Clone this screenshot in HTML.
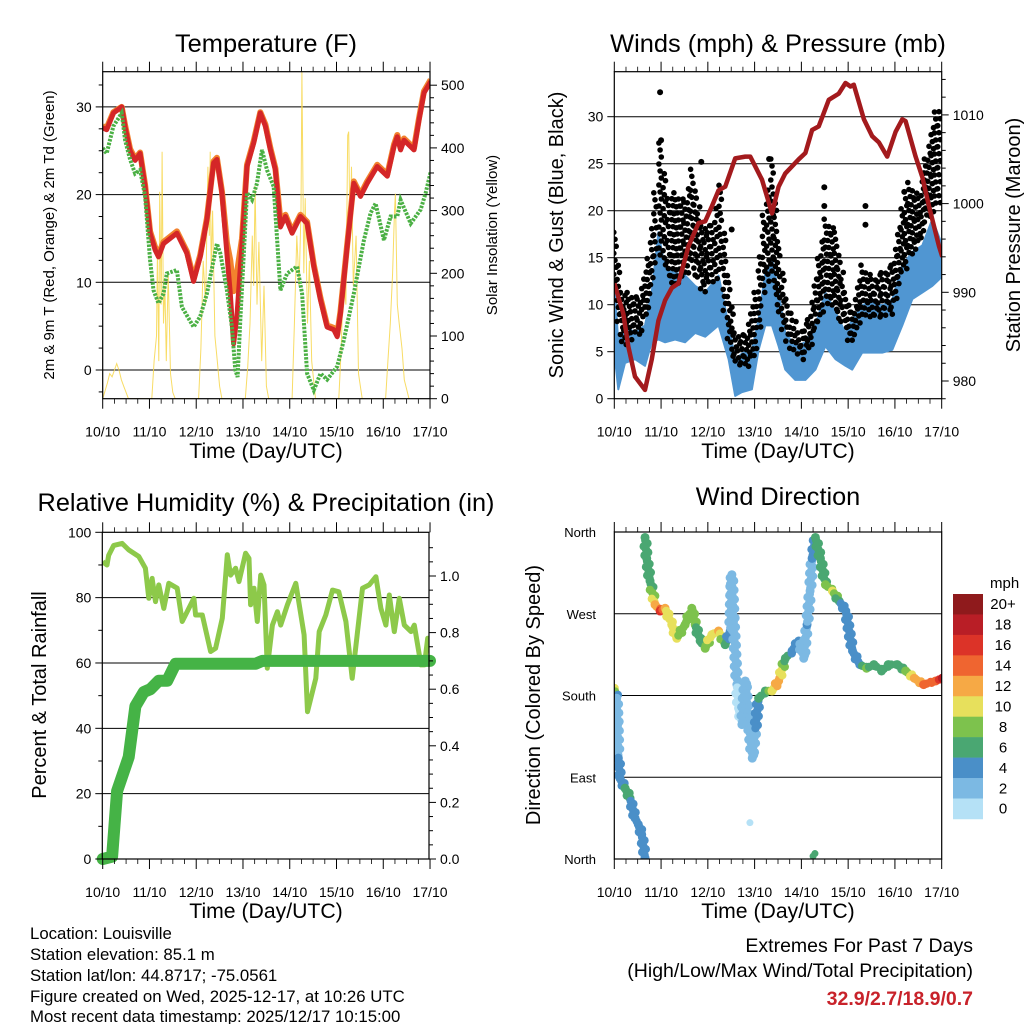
<!DOCTYPE html>
<html><head><meta charset="utf-8"><style>
body{margin:0;background:#fff}
svg text{font-family:"Liberation Sans",Arial,sans-serif;fill:#000}
</style></head><body>
<svg id="s" width="1024" height="1024" viewBox="0 0 1024 1024" xmlns="http://www.w3.org/2000/svg">
<defs>
<clipPath id="c1"><rect x="102.7" y="71.7" width="327.3" height="327"/></clipPath>
<clipPath id="c2"><rect x="614.3" y="71.7" width="327.4" height="327"/></clipPath>
<clipPath id="c3"><rect x="102.3" y="532.3" width="326.7" height="326.7"/></clipPath>
<clipPath id="c4"><rect x="614.3" y="532" width="327.4" height="327"/></clipPath>
</defs>
<g id="g1"></g>
<g id="g2"></g>
<g id="g3"></g>
<g id="g4"></g>
<text x="266" y="52" font-size="25.4" text-anchor="middle">Temperature (F)</text>
<text x="778" y="52" font-size="25.4" text-anchor="middle">Winds (mph) &amp; Pressure (mb)</text>
<text x="266" y="511" font-size="25.3" text-anchor="middle">Relative Humidity (%) &amp; Precipitation (in)</text>
<text x="778" y="505" font-size="25.3" text-anchor="middle">Wind Direction</text>
<text x="266" y="458" font-size="21.2" text-anchor="middle">Time (Day/UTC)</text>
<text x="778" y="458" font-size="21.2" text-anchor="middle">Time (Day/UTC)</text>
<text x="266" y="918" font-size="21.2" text-anchor="middle">Time (Day/UTC)</text>
<text x="778" y="918" font-size="21.2" text-anchor="middle">Time (Day/UTC)</text>
<text transform="translate(54,235) rotate(-90)" font-size="15" text-anchor="middle">2m &amp; 9m T (Red, Orange) &amp; 2m Td (Green)</text>
<text transform="translate(497,235) rotate(-90)" font-size="15" text-anchor="middle">Solar Insolation (Yellow)</text>
<text transform="translate(563,235) rotate(-90)" font-size="20" text-anchor="middle">Sonic Wind &amp; Gust (Blue, Black)</text>
<text transform="translate(1020,235) rotate(-90)" font-size="20" text-anchor="middle">Station Pressure (Maroon)</text>
<text transform="translate(46,695) rotate(-90)" font-size="20" text-anchor="middle">Percent &amp; Total Rainfall</text>
<text transform="translate(540,695) rotate(-90)" font-size="20" text-anchor="middle">Direction (Colored By Speed)</text>
<g font-size="16.8">
<text x="30" y="939">Location: Louisville</text>
<text x="30" y="960">Station elevation: 85.1 m</text>
<text x="30" y="981">Station lat/lon: 44.8717; -75.0561</text>
<text x="30" y="1002">Figure created on Wed, 2025-12-17, at 10:26 UTC</text>
<text x="30" y="1022">Most recent data timestamp: 2025/12/17 10:15:00</text>
</g>
<g font-size="19.5" text-anchor="end">
<text x="973" y="952">Extremes For Past 7 Days</text>
<text x="973" y="977">(High/Low/Max Wind/Total Precipitation)</text>
<text x="973" y="1005" font-weight="bold" style="fill:#c8222a">32.9/2.7/18.9/0.7</text>
</g>
</svg>
<script>
// ---- shared
const dayLabels=['10/10','11/10','12/10','13/10','14/10','15/10','16/10','17/10'];
// ---- temperature panel
const tTimes=[0,0.086,0.229,0.407,0.479,0.586,0.693,0.8,0.907,1.014,1.121,1.193,1.3,1.586,1.8,1.943,2.086,2.229,2.371,2.443,2.55,2.657,2.729,2.8,2.871,2.979,3.086,3.229,3.371,3.479,3.586,3.693,3.8,3.907,4.05,4.229,4.371,4.514,4.657,4.8,4.943,5.014,5.086,5.229,5.371,5.514,5.657,5.871,6.086,6.229,6.3,6.371,6.443,6.657,6.764,6.871,7.014];
const tempT2=[27.6,27.4,29.3,30,27.7,25,23.9,24.7,20.9,15.6,13.7,12.9,14.4,15.6,13.3,10.1,12.9,17.1,23.6,24,20.2,13.3,8.7,3,6.1,14.4,23.2,25.9,29.3,27.8,25.1,22.8,16.3,17.5,15.6,17.5,16.7,11.8,8,4.9,4.6,3.8,6.5,14.1,21.3,19.8,21.3,23.2,22.1,25.5,26.6,25.1,26.2,25.1,28.5,31.6,32.9];
const tempT9=[27.8,27.6,29.4,30,27.9,25.2,24.1,24.8,21.1,15.8,14,13.2,14.6,15.8,13.5,10.4,13.1,17.3,23.8,24.2,20.4,14.5,12.5,9,11,15,23.4,26.1,29.4,28,25.3,23,17,17.7,15.8,17.7,16.9,12,8.2,5.1,4.8,4,6.7,14.3,21.5,20,21.5,23.4,22.3,25.7,26.8,25.3,26.4,25.3,28.7,31.8,33.1];
const tdTimes=[0,0.086,0.229,0.407,0.479,0.586,0.693,0.8,0.907,1.014,1.086,1.193,1.3,1.371,1.586,1.693,1.943,2.086,2.229,2.443,2.514,2.657,2.764,2.836,2.886,2.943,3.086,3.193,3.3,3.407,3.514,3.657,3.8,3.943,4.157,4.264,4.371,4.514,4.657,4.8,5.014,5.157,5.371,5.586,5.729,5.836,6.014,6.157,6.3,6.371,6.586,6.8,6.907,7.014];
const tempTd=[25.3,24.7,27.8,29.3,26.2,24,22.4,22.8,19.8,12.5,9.1,7.6,8.7,11,11.4,7.2,4.9,6.1,8.7,14.4,13.3,9.1,4.9,0,-0.8,5.7,20.2,19.4,21.3,25.1,22.8,20.9,9.1,11,11.8,8.7,-0.4,-2.3,-0.4,-1.1,0.4,3.4,8.7,14.8,17.9,19,14.8,17.5,17.5,19.4,16.7,18.3,20.2,22.6];
const solTimes=[0,0.1,0.15,0.2,0.3,0.35,0.4,0.45,0.5,0.55,0.6,1.05,1.1,1.15,1.17,1.2,1.22,1.25,1.27,1.3,1.33,1.36,1.4,1.45,1.5,1.55,2.05,2.1,2.15,2.2,2.25,2.28,2.3,2.32,2.35,2.4,2.45,2.5,2.55,3.05,3.1,3.15,3.2,3.23,3.26,3.3,3.34,3.4,3.45,3.5,3.55,4.05,4.1,4.15,4.2,4.24,4.26,4.3,4.33,4.38,4.42,4.47,4.55,5.05,5.1,5.15,5.2,5.24,5.26,5.29,5.32,5.36,5.42,5.47,5.55,6.05,6.1,6.15,6.2,6.24,6.26,6.3,6.34,6.4,6.45,6.55];
const solVals=[0,25,40,35,56,45,30,20,10,0,0,0,60,100,230,60,330,150,394,120,180,60,200,40,10,0,0,80,220,150,370,260,394,200,300,100,60,20,0,0,50,120,260,180,339,150,250,60,180,20,0,0,120,260,180,300,522,200,320,120,220,60,0,0,80,200,150,420,426,250,370,180,260,40,0,0,60,120,200,300,327,150,120,80,30,0];
// ---- winds panel
const prTimes=[0,0.193,0.3,0.443,0.657,0.8,0.943,1.086,1.229,1.371,1.586,1.8,1.943,2.086,2.229,2.371,2.586,2.8,2.907,3.157,3.371,3.514,3.657,3.943,4.086,4.229,4.371,4.586,4.8,4.943,5.05,5.121,5.336,5.514,5.657,5.836,6.014,6.157,6.229,6.443,6.586,6.729,6.943,7.014];
const pressure=[991,987.6,983.9,980.5,979,982.4,986.8,989.1,990.5,991,995.2,997.8,998,999.7,1001.5,1001.9,1005.1,1005.3,1005.3,1002.7,998.9,1001.9,1003.4,1005,1005.7,1008.3,1008.7,1011.7,1012.4,1013.6,1013.2,1013.4,1009.5,1007.6,1006.9,1005.3,1008.1,1009.5,1009.3,1005.3,1003,999.7,995.2,994];
const wsTimes=[0.014,0.086,0.229,0.443,0.657,0.8,0.943,1.086,1.3,1.514,1.729,1.943,2.229,2.443,2.586,2.729,2.943,3.086,3.229,3.371,3.514,3.657,3.871,4.086,4.3,4.514,4.729,4.943,5.086,5.3,5.514,5.729,5.943,6.157,6.371,6.586,6.8,7.014];
const sustHi=[11.3,6,7.8,7,7.8,11.3,17.7,13.8,13.4,13.1,12,11.3,13.1,7.8,4.2,4.8,5.2,8.4,13.4,14.9,11.3,7,5.6,6,7.8,11.3,9.2,7,8.4,9.9,10.6,9.9,10.6,14.2,15.6,16.3,19.1,16.3];
const sustLo=[4.2,1,3.8,4.2,3.5,6,6.3,6,6.3,6,7,6.6,7.8,4.2,0.3,0.7,1,5.2,7.8,7.8,5.6,3.1,2,2,3.1,5.6,4.2,3.5,3.1,4.9,4.9,4.9,5.2,7.8,10.6,11.3,12,13];
const gTimes=[0.014,0.157,0.3,0.514,0.729,0.871,0.979,1.157,1.3,1.514,1.657,1.871,2.086,2.264,2.443,2.586,2.8,3.014,3.193,3.371,3.514,3.693,3.943,4.157,4.371,4.514,4.729,4.943,5.086,5.3,5.514,5.729,5.943,6.157,6.3,6.514,6.657,6.871,7.014];
const gustHi=[17.7,11.3,11.3,10.6,14.9,21.9,27.2,21.3,21.9,20.9,24.4,18.4,18.4,22.7,13.1,7,6.7,11.3,19.5,25.5,16.7,10.6,7,8.4,14.9,19.1,17.7,11.3,9.2,14.2,12.7,13.4,14.2,20.2,23,21.3,25.5,30.5,31.2];
const gustLo=[11.3,5.6,6.3,6.6,9.2,14.2,14.9,13.1,12,13.1,14.2,11.3,12,13.1,6,3.5,3.5,4.2,11.3,13.1,9.2,5.6,4.2,4.9,7.8,10.6,9.2,7,5.6,8.5,8.5,8.5,8.9,13.4,14.9,16.3,18.4,20.2,22];
const gustOutT=[0.979,1.0,1.86,2.51,3.31,4.49,4.49,5.37,5.37,6.2,6.62,6.65];
const gustOutV=[32.6,27.5,25.2,18,25.5,22.5,20.5,20.5,18.5,22,24,22];
// ---- humidity panel
const rhTimes=[0,0.093,0.129,0.236,0.414,0.557,0.771,0.914,0.986,1.057,1.129,1.2,1.307,1.414,1.593,1.7,1.771,1.95,1.986,2.129,2.307,2.414,2.557,2.664,2.736,2.843,2.914,3.057,3.129,3.164,3.236,3.307,3.379,3.45,3.521,3.629,3.736,3.807,3.95,4.129,4.307,4.379,4.557,4.629,4.771,4.914,5.05,5.2,5.336,5.557,5.7,5.843,5.95,6.057,6.129,6.236,6.343,6.45,6.593,6.664,6.807,6.879,6.95,7.0];
const rhVals=[91,90,93,96,96.6,94.6,92.6,89,79.8,85.9,78.8,83.9,76.7,84.4,82.9,72.7,74.7,79.8,74.7,74.7,63.5,64.5,73.7,93.1,86.9,89,84.9,93.6,92,77.8,82.9,72.7,86.9,83.9,58.4,71.6,75.7,71.6,77.8,84.4,68.6,45.1,55.3,69.6,74.7,82.3,81.8,72.7,55.3,82.9,83.9,86.4,76.7,71.6,80.8,69.6,79.8,71.6,69.6,71.6,59.4,59.4,67.6,66.5];
const prTimes2=[0,0.2,0.307,0.557,0.7,0.879,1.021,1.2,1.379,1.557,3.271,3.414,7.0];
const precip=[0,0.008,0.24,0.36,0.54,0.59,0.6,0.63,0.63,0.69,0.69,0.7,0.7];
// ---- wind direction panel
const dTimes=[0,0.05,0.071,0.086,0.121,0.229,0.336,0.443,0.514,0.586,0.657,0.657,0.693,0.764,0.871,0.979,1.086,1.229,1.336,1.514,1.657,1.729,1.836,1.943,2.086,2.229,2.371,2.479,2.514,2.55,2.621,2.657,2.729,2.8,2.871,2.95,3.086,3.229,3.371,3.514,3.657,3.8,3.943,4.05,4.121,4.186,4.229,4.3,4.407,4.514,4.664,4.807,4.95,5.093,5.25,5.393,5.55,5.714,5.857,6.05,6.229,6.414,6.614,6.871,7.014];
const dirVals=[188,177,148,111,89,78,67,45,38,27,1,354,331,306,280,273,276,258,243,258,276,258,240,232,247,251,236,251,313,262,192,166,148,196,152,111,177,185,185,196,221,229,240,221,258,295,331,354,331,302,295,284,273,229,214,210,214,207,214,214,207,199,192,196,199,201];
const dirSpeed=[11,3,3,4,5,6,6,5,5,5,4,6,7,6,12,16,12,11,10,9,8,8,7,9,11,12,7,4,3,2,2,1,2,3,2,2,6,7,11,13,7,5,4,3,4,2,4,6,7,8,10,6,4,4,5,8,6,6,7,6,8,12,14,15,18,17];
const dirExtraT=[2.9,4.25,4.29];
const dirExtraV=[40,3,6];
const dirExtraS=[1,6,6];
const speedLabels=['20+','18','16','14','12','10','8','6','4','2','0'];
const speedColors=['#8f1a1c','#b91e26','#dc3328','#ef6530','#f6a945','#e7e05c','#7dc24d','#4aa772','#4a8fc8','#7cb9e3','#b5e1f6'];

const NS='http://www.w3.org/2000/svg';
function el(tag,attrs,parent){const e=document.createElementNS(NS,tag);for(const k in attrs)e.setAttribute(k,attrs[k]);parent.appendChild(e);return e;}
function pts(ts,vs,fx,fy){return ts.map((t,i)=>fx(t).toFixed(1)+','+fy(vs[i]).toFixed(1)).join(' ');}
function lerp(a,b,f){return a+(b-a)*f;}

const xP=t=>102.7+t*46.76, xQ=t=>614.3+t*46.77;
const yT=v=>370-v*8.77, yS=v=>398.7-v*0.627;
const yW=v=>398.7-v*9.4, yPr=p=>381-(p-980)*8.87;
const yRH=v=>859-v*3.267, yPc=v=>859-v*283;
const yD=d=>859-d*(327/360);

function frame(g,x0,y0,x1,y1,xf,prefix){
  for(let i=0;i<dayLabels.length;i++){
    const x=xf(i);
    el('line',{x1:x,y1:y0,x2:x,y2:y0-10,stroke:'#000','stroke-width':1},g);
    el('line',{x1:x,y1:y1,x2:x,y2:y1+10,stroke:'#000','stroke-width':1},g);
    const t=el('text',{x:x,y:y1+38,'font-size':14,'text-anchor':'middle'},g);
    t.textContent=dayLabels[i];
    
    
    if(i<7){for(let k=1;k<4;k++){const xm=xf(i+k/4);
      el('line',{x1:xm,y1:y0,x2:xm,y2:y0-5,stroke:'#000','stroke-width':0.8},g);
      el('line',{x1:xm,y1:y1,x2:xm,y2:y1+5,stroke:'#000','stroke-width':0.8},g);}}
  }
  el('rect',{x:x0,y:y0,width:x1-x0,height:y1-y0,fill:'none',stroke:'#000','stroke-width':1.2},g);
}
function yAxis(g,x,side,vals,yf,labels,fs,major,prefix){
  vals.forEach((v,i)=>{
    const y=yf(v);
    const len=major?7:4;
    el('line',{x1:x,y1:y,x2:x+side*len,y2:y,stroke:'#000','stroke-width':1},g);
    if(labels&&labels[i]!==''){
      const t=el('text',{x:x+side*(len+4),y:y+5,'font-size':fs,'text-anchor':side<0?'end':'start'},g);
      t.textContent=labels[i];
      
      
    }
  });
}
function grid(g,x0,x1,vals,yf){vals.forEach(v=>{const y=yf(v);el('line',{x1:x0,y1:y,x2:x1,y2:y,stroke:'#000','stroke-width':1},g);});}

// ===== Panel 1
(function(){
const g=document.getElementById('g1');
grid(g,102.7,430,[0,10,20,30],yT);
const c=el('g',{'clip-path':'url(#c1)'},g);
const sol=el('polyline',{points:pts(solTimes,solVals,xP,yS),fill:'none',stroke:'#f7d64a','stroke-width':1,opacity:0.85},c);


const o=el('polyline',{points:pts(tTimes,tempT9,xP,yT),fill:'none',stroke:'#f2822e','stroke-width':6,'stroke-linejoin':'round'},c);


const r=el('polyline',{points:pts(tTimes,tempT2,xP,yT),fill:'none',stroke:'#d42628','stroke-width':5,'stroke-linejoin':'round'},c);


const gd=el('polyline',{points:pts(tdTimes,tempTd,xP,yT),fill:'none',stroke:'#4bb044','stroke-width':4,'stroke-dasharray':'2.5 1.3'},c);


frame(g,102.7,71.7,430,398.7,xP,'temp');
yAxis(g,102.7,-1,[0,10,20,30],yT,['0','10','20','30'],14,true,'temp-y');
yAxis(g,102.7,-1,[-2.5,2.5,5,7.5,12.5,15,17.5,22.5,25,27.5,32.5],yT,null,14,false,'temp-y');
yAxis(g,430,1,[0,100,200,300,400,500],yS,['0','100','200','300','400','500'],14,true,'solar-y');
yAxis(g,430,1,[20,40,60,80,120,140,160,180,220,240,260,280,320,340,360,380,420,440,460,480],yS,null,14,false,'solar-y');
})();

// ===== Panel 2
(function(){
const g=document.getElementById('g2');
grid(g,614.3,941.7,[5,10,15,20,25,30],yW);
const c=el('g',{'clip-path':'url(#c2)'},g);
let top=wsTimes.map((t,i)=>xQ(t).toFixed(1)+','+yW(sustHi[i]).toFixed(1));
let bot=wsTimes.map((t,i)=>xQ(t).toFixed(1)+','+yW(sustLo[i]).toFixed(1)).reverse();
const band=el('polygon',{points:top.concat(bot).join(' '),fill:'#5096d2',stroke:'#5096d2','stroke-width':2,'stroke-linejoin':'round'},c);


const gg=el('g',{fill:'#000'},c);


for(let i=0;i<gTimes.length-1;i++){
  const xa=xQ(gTimes[i]),xb=xQ(gTimes[i+1]);
  const n=Math.max(1,Math.round((xb-xa)/3.4));
  for(let k=0;k<n;k++){
    const f=k/n;const x=lerp(xa,xb,f);
    const hi=yW(lerp(gustHi[i],gustHi[i+1],f)),lo=yW(lerp(gustLo[i],gustLo[i+1],f));
    let j=0;
    for(let y=hi;y<=lo;y+=7){el('circle',{cx:(x+((j+k)%3-1)*1.2).toFixed(1),cy:(y+((k%2)*3)).toFixed(1),r:2.8},gg);j++;}
  }
}
gustOutT.forEach((t,i)=>{el('circle',{cx:xQ(t),cy:yW(gustOutV[i]),r:3},gg);});
const pr=el('polyline',{points:pts(prTimes,pressure,xQ,yPr),fill:'none',stroke:'#a31a1d','stroke-width':4.5,'stroke-linejoin':'round'},c);


frame(g,614.3,71.7,941.7,398.7,xQ,'winds');
yAxis(g,614.3,-1,[0,5,10,15,20,25,30],yW,['0','5','10','15','20','25','30'],14,true,'wind-y');
yAxis(g,941.7,1,[980,990,1000,1010],yPr,['980','990','1000','1010'],14,true,'pressure-y');
yAxis(g,941.7,1,[978,982,984,986,988,992,994,996,998,1002,1004,1006,1008,1012,1014],yPr,null,14,false,'pressure-y');
})();

// ===== Panel 3
(function(){
const g=document.getElementById('g3');
grid(g,102.3,429,[20,40,60,80],yRH);
const c=el('g',{'clip-path':'url(#c3)'},g);
const rh=el('polyline',{points:pts(rhTimes,rhVals,xP,yRH),fill:'none',stroke:'#8dc94a','stroke-width':5,'stroke-linejoin':'round'},c);


const p=el('polyline',{points:pts(prTimes2,precip,xP,yPc),fill:'none',stroke:'#45b346','stroke-width':12,'stroke-linejoin':'round','stroke-linecap':'round'},g);


frame(g,102.3,532.3,429,859,xP,'rh');
yAxis(g,102.3,-1,[0,20,40,60,80,100],yRH,['0','20','40','60','80','100'],14,true,'rh-y');
yAxis(g,102.3,-1,[10,30,50,70,90],yRH,null,14,false,'rh-y');
yAxis(g,429,1,[0,0.2,0.4,0.6,0.8,1.0],yPc,['0.0','0.2','0.4','0.6','0.8','1.0'],14,true,'precip-y');
yAxis(g,429,1,[0.05,0.1,0.15,0.25,0.3,0.35,0.45,0.5,0.55,0.65,0.7,0.75,0.85,0.9,0.95,1.05,1.1],yPc,null,14,false,'precip-y');
})();

// ===== Panel 4
(function(){
const g=document.getElementById('g4');
grid(g,614.3,941.7,[0,90,180,270,360],yD);
const c=el('g',{'clip-path':'url(#c4)'},g);
const dg=el('g',{},c);


function col(s){let idx=10-Math.min(10,Math.floor(s/2));return speedColors[idx];}
for(let i=0;i<dTimes.length;i++){
  const x=xQ(dTimes[i]),y=yD(dirVals[i]);
  el('circle',{cx:x,cy:y,r:4.5,fill:col(dirSpeed[i])},dg);
  if(i<dTimes.length-1&&Math.abs(dirVals[i+1]-dirVals[i])<150){
    const x2=xQ(dTimes[i+1]),y2=yD(dirVals[i+1]);
    const L=Math.hypot(x2-x,y2-y);const n=Math.max(1,Math.round(L/3));
    for(let k=1;k<n;k++){const f=k/n;
      el('circle',{cx:(lerp(x,x2,f)+((k%3)-1)*2).toFixed(1),cy:lerp(y,y2,f).toFixed(1),r:4.2,fill:col(lerp(dirSpeed[i],dirSpeed[i+1],f))},dg);}
  }
}
dirExtraT.forEach((t,i)=>{el('circle',{cx:xQ(t),cy:yD(dirExtraV[i]),r:3.5,fill:col(dirExtraS[i])},dg);});
frame(g,614.3,532,941.7,859,xQ,'dir');
const dl=['North','East','South','West','North'];
[0,90,180,270,360].forEach((v,i)=>{
  const t=el('text',{x:596,y:yD(v)+5,'font-size':13,'text-anchor':'end'},g);
  t.textContent=dl[i];
  
  
});
const cb=el('g',{},g);


const h=20.45;
const mt=el('text',{x:990,y:588,'font-size':15},cb);mt.textContent='mph';
speedLabels.forEach((l,i)=>{
  const r=el('rect',{x:953,y:594+i*h,width:30,height:h+0.3,fill:speedColors[i]},cb);
  
  
  const t=el('text',{x:1003,y:594+i*h+h/2+5,'font-size':15,'text-anchor':'middle'},cb);
  t.textContent=l;
  
  
});
})();
</script>
</body></html>
